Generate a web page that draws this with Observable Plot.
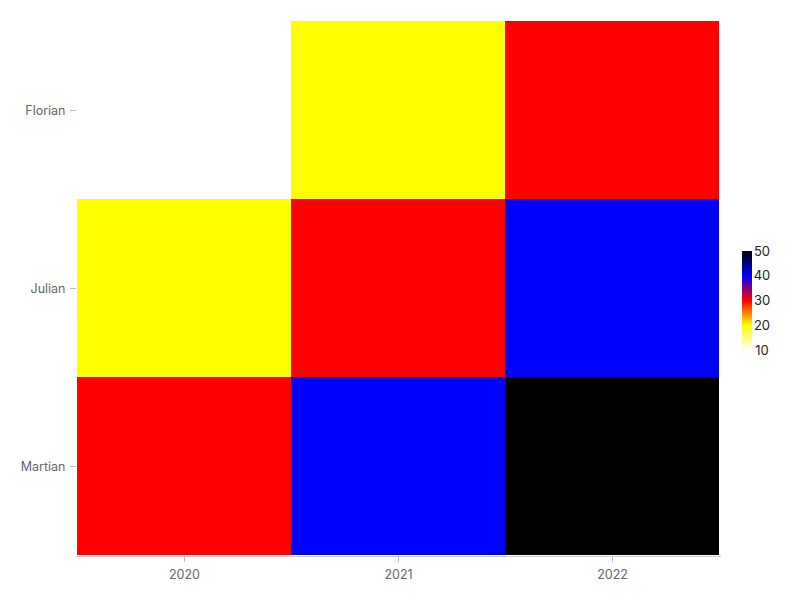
<!DOCTYPE html>
<html><head><meta charset="utf-8">
<script src="https://cdn.jsdelivr.net/npm/d3@7"></script>
<script src="https://cdn.jsdelivr.net/npm/@observablehq/plot@0.6"></script>
<style>body{margin:0;background:#fff;font-family:Inter,sans-serif}</style>
</head><body><div id="chart"></div>
<script>
const years = ["2020", "2021", "2022"];
const people = ["Florian", "Julian", "Martian"];
const values = [
  [10, 20, 30],
  [20, 30, 40],
  [30, 40, 50]
];
const colorDomain = [10, 20, 30, 40, 50];
const colorRange = ["white", "yellow", "red", "blue", "black"];
const legendTicks = [10, 20, 30, 40, 50];

const data = [];
people.forEach((p, i) => years.forEach((y, j) => data.push({person: p, year: y, value: values[i][j]})));

const plot = Plot.plot({
  width: 800, height: 600,
  marginLeft: 76, marginRight: 80, marginTop: 20, marginBottom: 44,
  style: {fontFamily: "Inter, sans-serif", fontSize: "12.5px", color: "#666"},
  x: {domain: years, padding: 0, label: null},
  y: {domain: people, padding: 0, label: null},
  color: {type: "linear", domain: colorDomain, range: colorRange, interpolate: "rgb"},
  marks: [
    Plot.cell(data, {x: "year", y: "person", fill: "value", inset: 0}),
    Plot.frame({anchor: "bottom", stroke: "#ccc"}),
    Plot.axisX({tickSize: 6, tickPadding: 8, stroke: "#bbb", fill: "#666"}),
    Plot.axisY({tickSize: 6, tickPadding: 5, stroke: "#bbb", fill: "#666"})
  ]
});
document.getElementById("chart").appendChild(plot);

// vertical color legend
const color = plot.scale("color");
const svg = d3.select(plot);
const lx = 742, ly0 = 251, ly1 = 350, lw = 10;
const grad = svg.append("defs").append("linearGradient")
  .attr("id", "lg").attr("x1", 0).attr("y1", 1).attr("x2", 0).attr("y2", 0);
const cs = d3.scaleLinear().domain(color.domain).range(color.range);
const n = 40;
for (let k = 0; k <= n; k++) {
  const v = 10 + (40 * k) / n;
  grad.append("stop").attr("offset", k / n).attr("stop-color", cs(v));
}
svg.append("rect").attr("x", lx).attr("y", ly0).attr("width", lw).attr("height", ly1 - ly0).attr("fill", "url(#lg)");
const ls = d3.scaleLinear().domain([10, 50]).range([ly1, ly0]);
svg.append("g").selectAll("text").data(legendTicks).join("text")
  .attr("x", 762).attr("y", d => ls(d)).attr("dy", "0.35em")
  .attr("fill", "#222").style("font-size", "13px").style("font-family", "Inter, sans-serif")
  .text(d => d);
</script></body></html>
